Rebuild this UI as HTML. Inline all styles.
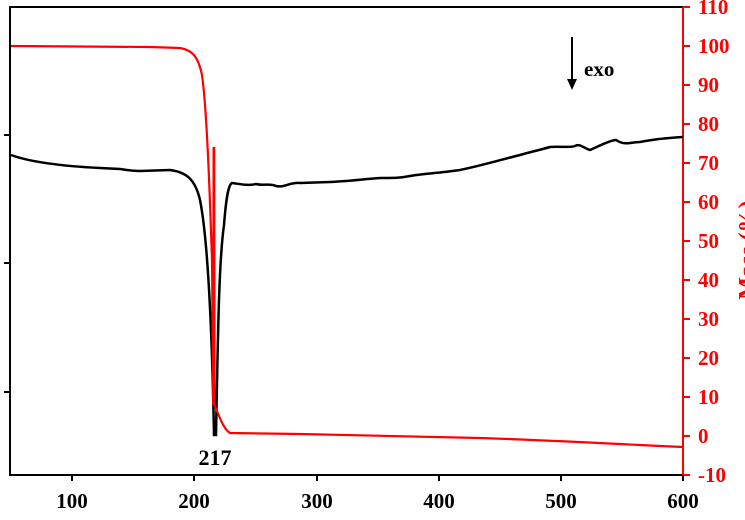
<!DOCTYPE html>
<html><head><meta charset="utf-8"><style>body{margin:0;background:#fff}svg{display:block}</style></head><body>
<svg width="745" height="520" viewBox="0 0 745 520" font-family="Liberation Serif, serif" font-weight="bold">
<rect x="10" y="7" width="673" height="468" fill="none" stroke="#000" stroke-width="2"/>
<g stroke="#000" stroke-width="2"><line x1="4" y1="135" x2="10" y2="135"/><line x1="4" y1="263" x2="10" y2="263"/><line x1="4" y1="392" x2="10" y2="392"/>
<line x1="72" y1="475" x2="72" y2="481"/><line x1="194" y1="475" x2="194" y2="481"/><line x1="317" y1="475" x2="317" y2="481"/><line x1="439" y1="475" x2="439" y2="481"/><line x1="561" y1="475" x2="561" y2="481"/><line x1="683" y1="475" x2="683" y2="481"/></g>
<g font-size="21" text-anchor="middle" fill="#000"><text x="72" y="508">100</text><text x="194" y="508">200</text><text x="317" y="508">300</text><text x="439" y="508">400</text><text x="561" y="508">500</text><text x="683" y="508">600</text></g>
<line x1="683" y1="7" x2="683" y2="475" stroke="#f00" stroke-width="2"/>
<g stroke="#f00" stroke-width="2">
<line x1="683" y1="7" x2="690" y2="7"/><line x1="683" y1="46" x2="690" y2="46"/><line x1="683" y1="85" x2="690" y2="85"/><line x1="683" y1="124" x2="690" y2="124"/><line x1="683" y1="163" x2="690" y2="163"/><line x1="683" y1="202" x2="690" y2="202"/><line x1="683" y1="241" x2="690" y2="241"/><line x1="683" y1="280" x2="690" y2="280"/><line x1="683" y1="319" x2="690" y2="319"/><line x1="683" y1="358" x2="690" y2="358"/><line x1="683" y1="397" x2="690" y2="397"/><line x1="683" y1="436" x2="690" y2="436"/><line x1="683" y1="475" x2="690" y2="475"/></g>
<g font-size="21" fill="#f00"><text x="698" y="14">110</text><text x="698" y="53">100</text><text x="698" y="92">90</text><text x="698" y="131">80</text><text x="698" y="170">70</text><text x="698" y="209">60</text><text x="698" y="248">50</text><text x="698" y="287">40</text><text x="698" y="326">30</text><text x="698" y="365">20</text><text x="698" y="404">10</text><text x="698" y="443">0</text><text x="698" y="482">-10</text></g>
<text transform="translate(755,250) rotate(-90)" font-size="24" fill="#f00" text-anchor="middle">Mass (%)</text>
<path d="M11,155 C30,162 60,166 100,168 L120,169 C128,170 130,171 140,171 L170,170 C185,172 195,178 200,200 C208,240 212,330 214,435 L216,435 C218,330 219,260 224,225 C226,200 228,185 232,183 C240,184 248,186 256,184 C264,186 270,183 276,186 C284,188 290,182 300,183 L330,182 C350,181 365,179 380,178 C395,178 400,178 410,176 C420,174 440,173 460,170 C480,166 500,160 520,155 C530,152 540,150 550,147 C560,146 570,148 575,146 C580,143 585,149 590,150 C595,148 610,140 616,140 C625,146 632,142 640,142 C650,140 665,138 683,137" fill="none" stroke="#000" stroke-width="2.5"/>
<path d="M11,46 L150,47 L180,48 C192,50 198,56 202,75 C207,110 210,200 212,260 L213.3,405 L213.6,148 L214.2,148 L214.5,405 C219,416 224,430 230,433 L300,434 C350,435 400,436 480,438 C540,440 600,443 660,446 L683,447" fill="none" stroke="#f00" stroke-width="2.2"/>
<text x="215" y="465" font-size="22" text-anchor="middle">217</text>
<line x1="572" y1="37" x2="572" y2="80" stroke="#000" stroke-width="2"/>
<polygon points="567,79 577,79 572,90" fill="#000"/>
<text x="584" y="76" font-size="21">exo</text>
</svg>
</body></html>
